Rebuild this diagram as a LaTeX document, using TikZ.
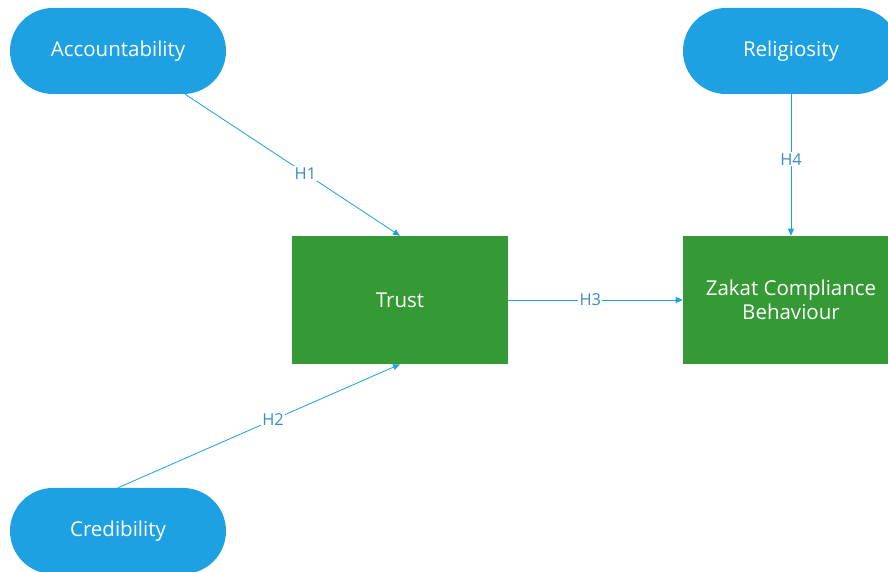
\documentclass[tikz,border=0pt]{standalone}
\usepackage{fontspec}
\setmainfont{Open Sans}
\usepackage{xcolor}
\usetikzlibrary{positioning, calc, arrows.meta}

\definecolor{varblue}{HTML}{1DA1E2}
\definecolor{vargreen}{HTML}{359A35}
\definecolor{hyptext}{HTML}{3A8DC2}

\tikzset{
  latentvar/.style={fill=varblue, text=white, minimum width=6.48cm, minimum height=2.58cm,
    rounded corners=1.29cm, font=\fontsize{17.5}{21}\selectfont, inner sep=0pt},
  construct/.style={fill=vargreen, text=white, minimum width=6.48cm, minimum height=3.84cm,
    align=center, font=\fontsize{17.5}{21}\selectfont, inner sep=0pt},
  hyp/.style={draw=varblue, line width=0.7pt, -{Triangle[length=6pt, width=5pt]}},
  hyplabel/.style={fill=white, text=hyptext, inner sep=1pt, font=\fontsize{14}{16}\selectfont}
}

\begin{document}
\begin{tikzpicture}[x=0.03cm, y=-0.03cm]
    \clip (0,0) rectangle (888,572);
    \useasboundingbox (0,0) rectangle (888,572);

    % Antecedents
    \node[latentvar] (acc) at (118,51) {Accountability};
    \node[latentvar] (cred) at (118,531) {Credibility};
    \node[latentvar] (rel) at (791,51) {Religiosity};

    % Mediator and outcome
    \node[construct] (trust) at (400,300) {Trust};
    \node[construct] (zakat) at (791,300) {Zakat Compliance\\Behaviour};

    % Hypothesised paths
    \draw[hyp] ($(acc.south)!0.62!(acc.south east)$) -- node[hyplabel, pos=0.56] {H1} (trust.north);
    \draw[hyp] (cred.north) -- node[hyplabel, pos=0.55] {H2} (trust.south);
    \draw[hyp] (trust.east) -- node[hyplabel, pos=0.47] {H3} (zakat.west);
    \draw[hyp] (rel.south) -- node[hyplabel, pos=0.46] {H4} (zakat.north);
\end{tikzpicture}
\end{document}
